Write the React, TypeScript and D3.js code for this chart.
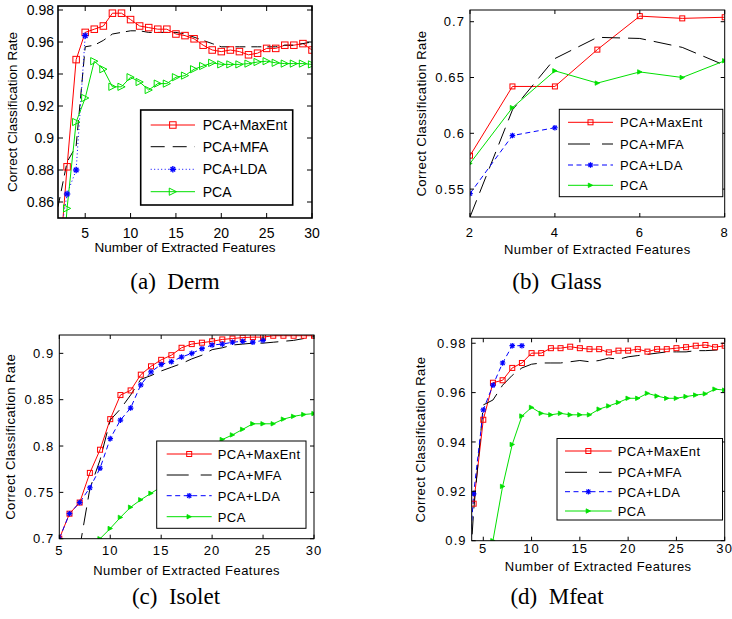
import React from "react";
import * as d3 from "d3";

// ---------------- data ----------------
// (a) Derm
const dermFeatures = [2, 3, 4, 5, 6, 7, 8, 9, 10, 11, 12, 13, 14, 15, 16, 17, 18, 19, 20, 21, 22, 23, 24, 25, 26, 27, 28, 29, 30];
const dermMaxEnt = [0.81, 0.882, 0.949, 0.966, 0.968, 0.97, 0.978, 0.978, 0.974, 0.97, 0.969, 0.968, 0.968, 0.965, 0.964, 0.962, 0.958, 0.955, 0.954, 0.955, 0.954, 0.952, 0.953, 0.956, 0.956, 0.958, 0.958, 0.959, 0.955];
const dermMFA = [0.857, 0.885, 0.895, 0.957, 0.958, 0.961, 0.965, 0.966, 0.967, 0.967, 0.966, 0.966, 0.966, 0.966, 0.965, 0.963, 0.961, 0.959, 0.957, 0.957, 0.957, 0.957, 0.957, 0.957, 0.957, 0.958, 0.958, 0.959, 0.96];
const dermLdaFeatures = [2, 3, 4, 5];
const dermLDA = [0.83, 0.865, 0.88, 0.964];
const dermPCA = [0.78, 0.856, 0.91, 0.925, 0.948, 0.943, 0.932, 0.932, 0.938, 0.935, 0.93, 0.934, 0.934, 0.938, 0.939, 0.943, 0.945, 0.947, 0.946, 0.946, 0.946, 0.9465, 0.9475, 0.948, 0.947, 0.9465, 0.9465, 0.9465, 0.946];
const dermYTicks = [0.86, 0.88, 0.9, 0.92, 0.94, 0.96, 0.98];

// (b) Glass
const glassFeatures = [2, 3, 4, 5, 6, 7, 8];
const glassMaxEnt = [0.58, 0.642, 0.642, 0.675, 0.705, 0.703, 0.704];
const glassMFA = [0.525, 0.621, 0.667, 0.686, 0.685, 0.677, 0.661];
const glassLdaFeatures = [2, 3, 4];
const glassLDA = [0.546, 0.598, 0.605];
const glassPCA = [0.573, 0.623, 0.656, 0.645, 0.655, 0.65, 0.665];
const glassXTicks = [2, 4, 6, 8];
const glassYTicks = [0.55, 0.6, 0.65, 0.7];

// (c) Isolet
const isoletFeatures = [5, 6, 7, 8, 9, 10, 11, 12, 13, 14, 15, 16, 17, 18, 19, 20, 21, 22, 23, 24, 25, 26, 27, 28, 29, 30];
const isoletMaxEnt = [0.7, 0.727, 0.739, 0.771, 0.796, 0.829, 0.855, 0.86, 0.877, 0.886, 0.893, 0.898, 0.906, 0.91, 0.9115, 0.913, 0.915, 0.916, 0.917, 0.9175, 0.9175, 0.919, 0.919, 0.919, 0.919, 0.919];
const isoletMFA = [0.52, 0.6, 0.69, 0.754, 0.785, 0.828, 0.84, 0.855, 0.872, 0.876, 0.881, 0.885, 0.889, 0.894, 0.898, 0.904, 0.906, 0.909, 0.91, 0.911, 0.911, 0.912, 0.913, 0.914, 0.916, 0.918];
const isoletLdaFeatures = [5, 6, 7, 8, 9, 10, 11, 12, 13, 14, 15, 16, 17, 18, 19, 20, 21, 22, 23, 24, 25];
const isoletLDA = [0.7, 0.727, 0.739, 0.755, 0.776, 0.808, 0.828, 0.841, 0.866, 0.88, 0.888, 0.891, 0.896, 0.9, 0.905, 0.909, 0.91, 0.912, 0.913, 0.912, 0.914];
const isoletPcaFeatures = [9, 10, 11, 12, 13, 14, 15, 16, 17, 18, 19, 20, 21, 22, 23, 24, 25, 26, 27, 28, 29, 30];
const isoletPCA = [0.7, 0.711, 0.723, 0.734, 0.742, 0.749, 0.756, 0.765, 0.773, 0.784, 0.792, 0.8, 0.807, 0.812, 0.818, 0.824, 0.824, 0.824, 0.829, 0.832, 0.834, 0.835];
const isoletYTicks = [0.7, 0.75, 0.8, 0.85, 0.9];

// (d) Mfeat
const mfeatMaxEntFeatures = [4, 5, 6, 7, 8, 9, 10, 11, 12, 13, 14, 15, 16, 17, 18, 19, 20, 21, 22, 23, 24, 25, 26, 27, 28, 29, 30];
const mfeatMaxEnt = [0.915, 0.949, 0.964, 0.965, 0.97, 0.972, 0.976, 0.976, 0.978, 0.978, 0.9786, 0.978, 0.9776, 0.9776, 0.9763, 0.977, 0.977, 0.9776, 0.9766, 0.9776, 0.9776, 0.978, 0.9784, 0.979, 0.9793, 0.9784, 0.979];
const mfeatMfaFeatures = [3, 4, 5, 6, 7, 8, 9, 10, 11, 12, 13, 14, 15, 16, 17, 18, 19, 20, 21, 22, 23, 24, 25, 26, 27, 28, 29, 30];
const mfeatMFA = [0.85, 0.912, 0.955, 0.957, 0.963, 0.967, 0.97, 0.9715, 0.972, 0.972, 0.972, 0.9725, 0.973, 0.9725, 0.973, 0.974, 0.9735, 0.9745, 0.975, 0.9755, 0.976, 0.9765, 0.9765, 0.9765, 0.977, 0.977, 0.9772, 0.9775];
const mfeatLdaFeatures = [3, 4, 5, 6, 7, 8, 9];
const mfeatLDA = [0.86, 0.919, 0.953, 0.963, 0.972, 0.979, 0.979];
const mfeatPcaFeatures = [6, 7, 8, 9, 10, 11, 12, 13, 14, 15, 16, 17, 18, 19, 20, 21, 22, 23, 24, 25, 26, 27, 28, 29, 30];
const mfeatPCA = [0.9, 0.922, 0.939, 0.9505, 0.954, 0.9516, 0.951, 0.9516, 0.951, 0.951, 0.951, 0.9533, 0.9546, 0.956, 0.9577, 0.9577, 0.9597, 0.9586, 0.9577, 0.9577, 0.9584, 0.959, 0.9595, 0.9614, 0.961];
const mfeatYTicks = [0.9, 0.92, 0.94, 0.96, 0.98];

const xTicks5to30 = [5, 10, 15, 20, 25, 30];
const methodNames = ["PCA+MaxEnt", "PCA+MFA", "PCA+LDA", "PCA"];

// ---------------- styling ----------------
const RED = "#ff0000";
const BLUE = "#0000ff";
const GREEN = "#00e000";
const SANS = "'Liberation Sans', Arial, Helvetica, sans-serif";
const SERIF = "'Liberation Serif', 'Times New Roman', serif";

type Kind = "maxent" | "mfa" | "lda" | "pca";
type Series = { kind: Kind; x: number[]; y: number[] };

const zip = (x: number[], y: number[]) => x.map((v, i) => [v, y[i]] as [number, number]);

function Marker({ kind, cx, cy, big }: { kind: Kind; cx: number; cy: number; big: boolean }) {
  if (kind === "maxent") {
    const s = big ? 6.5 : 5;
    return <rect x={cx - s / 2} y={cy - s / 2} width={s} height={s} fill="none" stroke={RED} strokeWidth={1} />;
  }
  if (kind === "lda") {
    const r = big ? 3.2 : 2.8;
    const d = r * 0.72;
    return (
      <g stroke={BLUE} strokeWidth={big ? 1.4 : 1.2}>
        <line x1={cx - r} y1={cy} x2={cx + r} y2={cy} />
        <line x1={cx} y1={cy - r} x2={cx} y2={cy + r} />
        <line x1={cx - d} y1={cy - d} x2={cx + d} y2={cy + d} />
        <line x1={cx - d} y1={cy + d} x2={cx + d} y2={cy - d} />
      </g>
    );
  }
  if (kind === "pca") {
    if (big) {
      const s = 3.6;
      return <path d={`M${cx + s},${cy}L${cx - s},${cy - s}L${cx - s},${cy + s}Z`} fill="none" stroke={GREEN} strokeWidth={1} />;
    }
    const s = 2.2;
    return <path d={`M${cx + s},${cy}L${cx - s},${cy - s}L${cx - s},${cy + s}Z`} fill={GREEN} stroke={GREEN} strokeWidth={0.8} />;
  }
  return null;
}

function lineStyle(kind: Kind, big: boolean) {
  if (kind === "maxent") return { stroke: RED, dash: undefined as string | undefined };
  if (kind === "mfa") return { stroke: "#000", dash: big ? "10,6" : "18,8" };
  if (kind === "lda") return { stroke: BLUE, dash: big ? "1,2.5" : "5,3.5" };
  return { stroke: GREEN, dash: undefined };
}

type PanelProps = {
  id: string;
  box: { l: number; r: number; t: number; b: number };
  xDomain: [number, number];
  yDomain: [number, number];
  xTicks: number[];
  yTicks: number[];
  series: Series[];
  big: boolean;
  xTickBase: number;
  xLabelBase: number;
  yLabelX: number;
  legend: { x: number; y: number; w: number; h: number; rows: number[]; l0: number; l1: number; tx: number };
  caption: string;
  captionX: number;
  captionY: number;
};

function Panel(p: PanelProps) {
  const { box, big } = p;
  const x = d3.scaleLinear().domain(p.xDomain).range([box.l, box.r]);
  const y = d3.scaleLinear().domain(p.yDomain).range([box.b, box.t]);
  const line = d3.line<[number, number]>().x((d) => x(d[0])).y((d) => y(d[1]));
  const tickLen = big ? 5 : 4;
  const axisW = big ? 1.6 : 1;
  const tickFs = big ? 14 : 13;
  const labelFs = big ? 13.5 : 13;
  const tickLs = big ? 0 : 1.1;
  const labelLs = big ? 0 : 0.45;
  const clipId = `clip-${p.id}`;
  const lg = p.legend;
  const fmt = (v: number) => String(+v.toFixed(3));

  return (
    <g>
      <defs>
        <clipPath id={clipId}>
          <rect x={box.l} y={box.t} width={box.r - box.l} height={box.b - box.t} />
        </clipPath>
      </defs>
      <g clipPath={`url(#${clipId})`}>
        {p.series.map((s) => {
          const st = lineStyle(s.kind, big);
          return (
            <path
              key={s.kind}
              d={line(zip(s.x, s.y)) || ""}
              fill="none"
              stroke={st.stroke}
              strokeWidth={1}
              strokeDasharray={st.dash}
            />
          );
        })}
        {p.series.map((s) =>
          zip(s.x, s.y).map((d, i) => <Marker key={`${s.kind}-${i}`} kind={s.kind} cx={x(d[0])} cy={y(d[1])} big={big} />)
        )}
      </g>
      {/* ticks, inward on all four sides */}
      <g stroke="#000" strokeWidth={1}>
        {p.xTicks.map((t) => (
          <g key={`xt${t}`}>
            <line x1={x(t)} x2={x(t)} y1={box.b} y2={box.b - tickLen} />
            <line x1={x(t)} x2={x(t)} y1={box.t} y2={box.t + tickLen} />
          </g>
        ))}
        {p.yTicks.map((t) => (
          <g key={`yt${t}`}>
            <line x1={box.l} x2={box.l + tickLen} y1={y(t)} y2={y(t)} />
            <line x1={box.r} x2={box.r - tickLen} y1={y(t)} y2={y(t)} />
          </g>
        ))}
      </g>
      <rect x={box.l} y={box.t} width={box.r - box.l} height={box.b - box.t} fill="none" stroke="#000" strokeWidth={axisW} />
      <g fontFamily={SANS} fontSize={tickFs} fill="#000" letterSpacing={tickLs}>
        {p.xTicks.map((t) => (
          <text key={`xl${t}`} x={x(t)} y={p.xTickBase} textAnchor="middle">
            {fmt(t)}
          </text>
        ))}
        {p.yTicks.map((t) => (
          <text key={`yl${t}`} x={box.l - (big ? 4 : 5)} y={y(t) + tickFs * 0.36} textAnchor="end">
            {fmt(t)}
          </text>
        ))}
      </g>
      <text
        x={(box.l + box.r) / 2}
        y={p.xLabelBase}
        textAnchor="middle"
        fontFamily={SANS}
        fontSize={labelFs}
        letterSpacing={labelLs}
      >
        Number of Extracted Features
      </text>
      <text
        transform={`translate(${p.yLabelX},${(box.t + box.b) / 2}) rotate(-90)`}
        textAnchor="middle"
        dominantBaseline="central"
        fontFamily={SANS}
        fontSize={labelFs}
        letterSpacing={labelLs}
      >
        Correct Classification Rate
      </text>
      {/* legend */}
      <g>
        <rect x={lg.x} y={lg.y} width={lg.w} height={lg.h} fill="#fff" stroke="#000" strokeWidth={big ? 1.6 : 1} />
        {(["maxent", "mfa", "lda", "pca"] as Kind[]).map((k, i) => {
          const st = lineStyle(k, big);
          const ry = lg.y + lg.rows[i];
          const mx = lg.x + (lg.l0 + lg.l1) / 2;
          return (
            <g key={k}>
              <line
                x1={lg.x + lg.l0}
                x2={lg.x + lg.l1}
                y1={ry}
                y2={ry}
                stroke={st.stroke}
                strokeWidth={1}
                strokeDasharray={k === "mfa" && !big ? "22,12" : k === "mfa" ? "14,8" : st.dash}
              />
              <Marker kind={k} cx={mx} cy={ry} big={big} />
              <text
                x={lg.x + lg.tx}
                y={ry + 5}
                fontFamily={SANS}
                fontSize={big ? 14 : 13}
                letterSpacing={big ? 0 : 0.45}
              >
                {methodNames[i]}
              </text>
            </g>
          );
        })}
      </g>
      <text x={p.captionX} y={p.captionY} textAnchor="middle" fontFamily={SERIF} fontSize={23}>
        {p.caption}
      </text>
    </g>
  );
}

const panels: PanelProps[] = [
  {
    id: "a",
    box: { l: 58, r: 312, t: 6, b: 218 },
    xDomain: [2, 30],
    yDomain: [0.85, 0.9825],
    xTicks: xTicks5to30,
    yTicks: dermYTicks,
    series: [
      { kind: "maxent", x: dermFeatures, y: dermMaxEnt },
      { kind: "mfa", x: dermFeatures, y: dermMFA },
      { kind: "lda", x: dermLdaFeatures, y: dermLDA },
      { kind: "pca", x: dermFeatures, y: dermPCA },
    ],
    big: true,
    xTickBase: 238,
    xLabelBase: 252,
    yLabelX: 12,
    legend: { x: 140.7, y: 110, w: 152, h: 95, rows: [15, 36.7, 59.3, 81.7], l0: 10, l1: 54.3, tx: 62 },
    caption: "(a)\u00a0\u00a0Derm",
    captionX: 175,
    captionY: 289,
  },
  {
    id: "b",
    box: { l: 470, r: 724.7, t: 10, b: 217 },
    xDomain: [2, 8],
    yDomain: [0.525, 0.7105],
    xTicks: glassXTicks,
    yTicks: glassYTicks,
    series: [
      { kind: "maxent", x: glassFeatures, y: glassMaxEnt },
      { kind: "mfa", x: glassFeatures, y: glassMFA },
      { kind: "lda", x: glassLdaFeatures, y: glassLDA },
      { kind: "pca", x: glassFeatures, y: glassPCA },
    ],
    big: false,
    xTickBase: 237,
    xLabelBase: 254,
    yLabelX: 421.7,
    legend: { x: 559.3, y: 109.3, w: 163.5, h: 87.4, rows: [13, 34.7, 55.7, 76], l0: 8.7, l1: 53.7, tx: 60.7 },
    caption: "(b)\u00a0\u00a0Glass",
    captionX: 557,
    captionY: 289,
  },
  {
    id: "c",
    box: { l: 59.3, r: 314, t: 335, b: 538.7 },
    xDomain: [5, 30],
    yDomain: [0.7, 0.9198],
    xTicks: xTicks5to30,
    yTicks: isoletYTicks,
    series: [
      { kind: "maxent", x: isoletFeatures, y: isoletMaxEnt },
      { kind: "mfa", x: isoletFeatures, y: isoletMFA },
      { kind: "lda", x: isoletLdaFeatures, y: isoletLDA },
      { kind: "pca", x: isoletPcaFeatures, y: isoletPCA },
    ],
    big: false,
    xTickBase: 555,
    xLabelBase: 575,
    yLabelX: 10,
    legend: { x: 156.7, y: 441, w: 149.3, h: 87.3, rows: [13, 34, 54.7, 75.7], l0: 10, l1: 55, tx: 61 },
    caption: "(c)\u00a0\u00a0Isolet",
    captionX: 176,
    captionY: 604,
  },
  {
    id: "d",
    box: { l: 471.7, r: 724.7, t: 338.3, b: 540.7 },
    xDomain: [3.8, 30],
    yDomain: [0.9, 0.982],
    xTicks: xTicks5to30,
    yTicks: mfeatYTicks,
    series: [
      { kind: "maxent", x: mfeatMaxEntFeatures, y: mfeatMaxEnt },
      { kind: "mfa", x: mfeatMfaFeatures, y: mfeatMFA },
      { kind: "lda", x: mfeatLdaFeatures, y: mfeatLDA },
      { kind: "pca", x: mfeatPcaFeatures, y: mfeatPCA },
    ],
    big: false,
    xTickBase: 553,
    xLabelBase: 571,
    yLabelX: 420,
    legend: { x: 557, y: 438.5, w: 165.5, h: 81.5, rows: [12.5, 33.8, 53.2, 72.5], l0: 8, l1: 54.7, tx: 60.7 },
    caption: "(d)\u00a0\u00a0Mfeat",
    captionX: 557,
    captionY: 604,
  },
];

export default function App() {
  return (
    <svg
      width={732}
      height={619}
      viewBox="0 0 732 619"
      style={{ position: "absolute", left: 0, top: 0, background: "#fff" }}
    >
      <rect width={732} height={619} fill="#fff" />
      {panels.map((p) => (
        <Panel key={p.id} {...p} />
      ))}
    </svg>
  );
}
